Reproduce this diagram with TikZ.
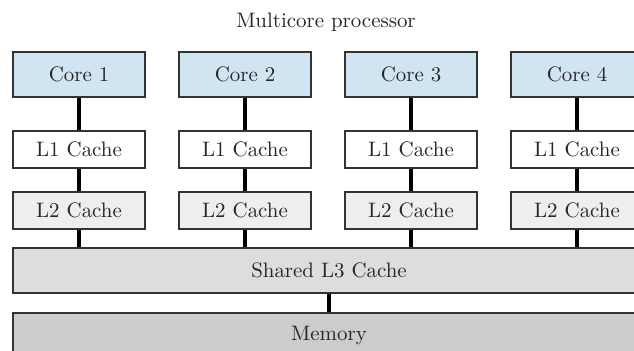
\documentclass[tikz,border=0pt]{standalone}
\begin{document}
\begin{tikzpicture}[x=0.478pt,y=-0.478pt,
  box/.style={draw=black!80, line width=0.5pt, inner sep=0pt, minimum width=132*0.478pt, text=black!85},
  corebox/.style={box, fill=coreblue, minimum height=45*0.478pt},
  lonebox/.style={box, fill=white, minimum height=37*0.478pt},
  ltwobox/.style={box, fill=ltwogray, minimum height=37*0.478pt},
  widebox/.style={box, minimum width=632*0.478pt, minimum height=45*0.478pt},
  link/.style={line width=1.7pt, black}]
\definecolor{coreblue}{RGB}{208,228,242}
\definecolor{ltwogray}{RGB}{238,238,238}
\definecolor{lthreegray}{RGB}{221,221,221}
\definecolor{memgray}{RGB}{204,204,204}
\useasboundingbox (0,0) rectangle (634,351);
\clip (0,0) rectangle (634,351);
\node[text=black!85] (title) at (326,22) {Multicore processor};
\foreach \i/\x in {1/79,2/245,3/411,4/577}{
  \node[corebox] (c\i) at (\x,74.5) {Core \i};
  \node[lonebox] (la\i) at (\x,149.5) {L1 Cache};
  \node[ltwobox] (lb\i) at (\x,210.5) {L2 Cache};
}
\node[widebox, fill=lthreegray] (l3) at (329,270.5) {Shared L3 Cache};
\node[widebox, fill=memgray] (mem) at (329,335.5) {Memory};
\foreach \i in {1,2,3,4}{
  \draw[link] (c\i) -- (la\i);
  \draw[link] (la\i) -- (lb\i);
  \draw[link] (lb\i.south) -- (lb\i.south |- l3.north);
}
\draw[link] (l3) -- (mem);
\end{tikzpicture}
\end{document}
